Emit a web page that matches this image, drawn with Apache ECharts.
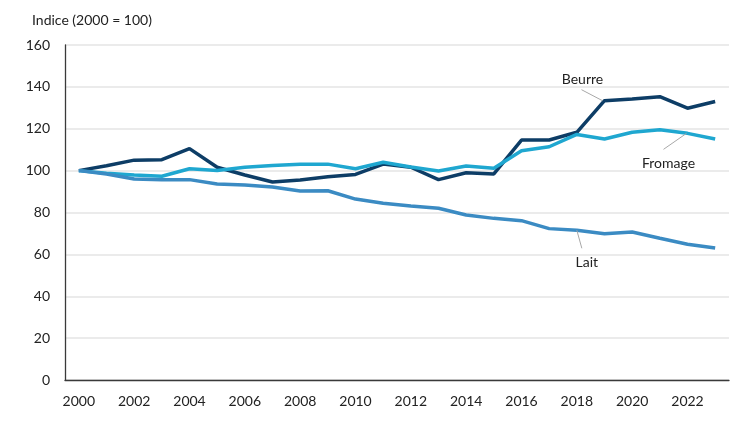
<!DOCTYPE html>
<html><head><meta charset="utf-8">
<script src="https://cdn.jsdelivr.net/npm/echarts@6/dist/echarts.min.js"></script>
<style>html,body{margin:0;padding:0;background:#fff}#c{width:750px;height:422px}</style>
</head><body><div id="c"></div>
<script>
const years = ['2000','2001','2002','2003','2004','2005','2006','2007','2008','2009','2010','2011','2012','2013','2014','2015','2016','2017','2018','2019','2020','2021','2022','2023'];
const beurre  = [100,102.3,105,105.2,110.5,101.6,97.9,94.6,95.5,97.1,98.2,103.1,101.6,95.7,99,98.4,114.6,114.6,118.3,133.4,134.2,135.3,129.8,133];
const fromage = [100,98.8,97.9,97.3,100.9,100.1,101.6,102.5,103.1,103.1,100.9,104,101.7,99.8,102.2,101.1,109.5,111.4,117.3,115.1,118.3,119.5,117.8,115.1];
const lait    = [100,98.4,96,95.7,95.7,93.6,93.1,92.2,90.3,90.4,86.4,84.4,83.1,82,78.8,77.2,76.1,72.3,71.5,69.9,70.7,67.7,64.8,63];
const yTicks = [0,20,40,60,80,100,120,140,160];
const yTitle = 'Indice (2000 = 100)';
const names = ['Beurre','Fromage','Lait'];

const FONT = 'Lato';
const chart = echarts.init(document.getElementById('c'));
const mk = (name, data, color) => ({
  name, type:'line', data, symbol:'none', smooth:false,
  lineStyle:{color, width:3.5}, itemStyle:{color}, z: 3
});
chart.setOption({
  animation:false,
  textStyle:{fontFamily:FONT},
  grid:{left:65, right:21, top:45, bottom:42, containLabel:false},
  graphic:[{type:'text', left:32, top:13, style:{text:yTitle, font:'14px '+FONT, fill:'#222'}}],
  xAxis:{type:'category', data:years, boundaryGap:true,
    axisLine:{lineStyle:{color:'#3a3a3a', width:1.3}},
    axisTick:{show:false},
    axisLabel:{interval:1, color:'#222', fontSize:14, margin:14, fontFamily:FONT},
    splitLine:{show:false}},
  yAxis:{type:'value', min:yTicks[0], max:yTicks[yTicks.length-1], interval:20,
    axisLine:{show:true, lineStyle:{color:'#3a3a3a', width:1.3}},
    axisTick:{show:false},
    axisLabel:{color:'#222', fontSize:14, margin:15, fontFamily:FONT},
    splitLine:{lineStyle:{color:'#e4e4e4', width:1.5}}},
  series:[mk(names[0], beurre, '#0d3d66'), mk(names[1], fromage, '#1fa7d0'), mk(names[2], lait, '#3b8bc3')]
});

// annotations anchored to data points
function pt(i, v){ return chart.convertToPixel({xAxisIndex:0, yAxisIndex:0}, [i, v]); }
const g = [];
function annot(text, p, lx1, ly1, tx, ty){
  g.push({type:'line', shape:{x1:p[0]+lx1[0], y1:p[1]+lx1[1], x2:p[0]+ly1[0], y2:p[1]+ly1[1]}, style:{stroke:'#a8a8a8', lineWidth:1}, z:5});
  g.push({type:'text', x:p[0]+tx, y:p[1]+ty, style:{text, font:'14px '+FONT, fill:'#222', align:'center', verticalAlign:'middle'}, z:6});
}
const pB = pt(19, beurre[19]);
annot(names[0], pB, [-2,0], [-23,-11], -22, -21);
const pF = pt(22, fromage[22]);
annot(names[1], pF, [-1,0], [-24,16], -19, 30);
const pL = pt(18, lait[18]);
annot(names[2], pL, [0,0], [5,18], 10, 32);
chart.setOption({graphic:[{type:'text', left:32, top:13, style:{text:yTitle, font:'14px '+FONT, fill:'#222'}}].concat(g)});
</script></body></html>
